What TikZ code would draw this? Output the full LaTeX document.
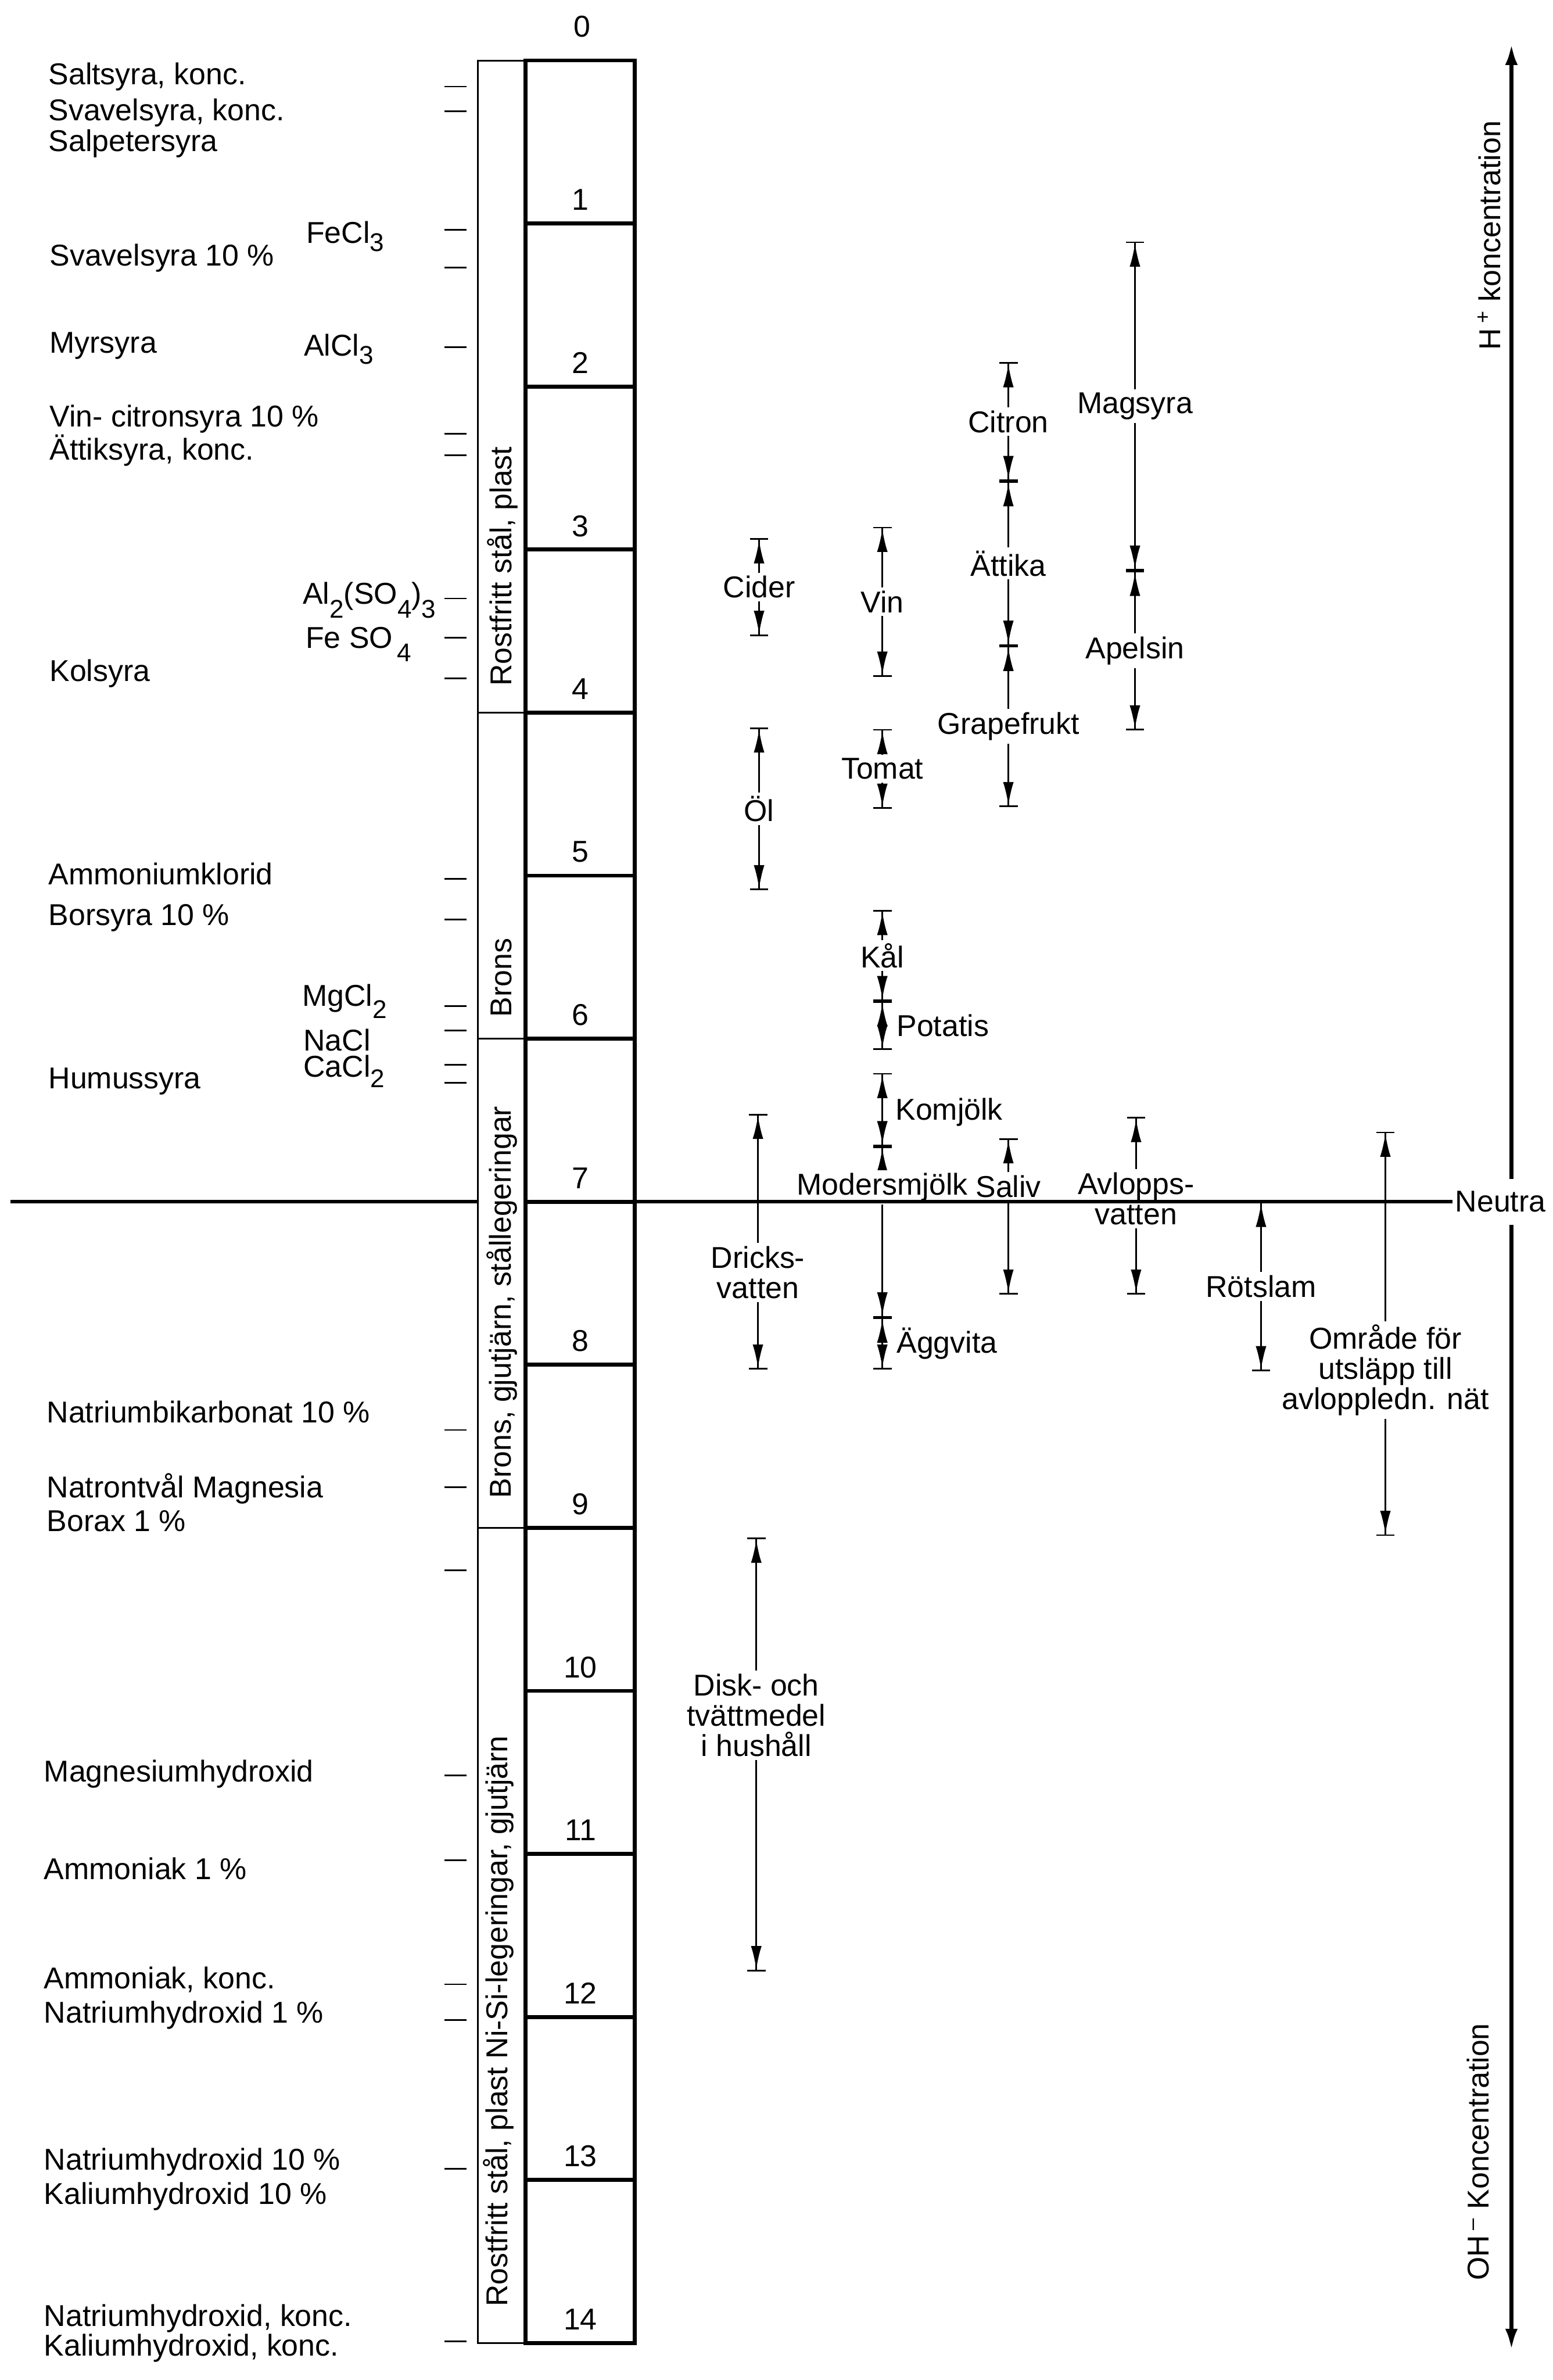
\documentclass[tikz,border=0pt]{standalone}
\usepackage{fontspec}
\setmainfont{Liberation Sans}
\usetikzlibrary{arrows.meta}
\newcommand{\subsc}[2][-0.3em]{\raisebox{#1}{\fontsize{13}{14}\selectfont #2}}

\begin{document}
\begin{tikzpicture}[x=1cm, y=-2.91cm,
    every node/.style={font=\fontsize{15.3}{15.4}\selectfont, inner sep=0.06cm},
    cell/.style={line width=2pt},
    matcol/.style={line width=0.85pt},
    pHtick/.style={line width=0.85pt},
    interval/.style={line width=0.85pt, {Bar[width=0.33cm]Latex[length=0.42cm,width=0.19cm]}-{Latex[length=0.42cm,width=0.19cm]Bar[width=0.33cm]}},
    lbl/.style={fill=white, align=center},
    chem/.style={anchor=west},
    mat/.style={rotate=90, anchor=base west}]
    \useasboundingbox (0,-0.371) rectangle (27.72,14.227);
    % pH-skalan
    \draw[matcol] (8.53,0) rectangle (9.38,14);
    \foreach \k in {4,6,9} \draw[matcol] (8.53,\k) -- (9.38,\k);
    \draw[cell] (9.38,0) rectangle (11.33,14);
    \foreach \k in {1,...,13} \draw[cell] (9.38,\k) -- (11.33,\k);
    \node (ph0) at (10.39,-0.21) {0};
    \foreach \k in {1,...,14} \node (ph\k) at (10.36,\k-0.145) {\k};
    % material
    \node[mat] (mat1) at (9.13,3.86) {Rostfritt stål, plast};
    \node[mat] (mat2) at (9.13,5.89) {Brons};
    \node[mat] (mat3) at (9.12,8.84) {Brons, gjutjärn, stållegeringar};
    \node[mat] (mat4) at (9.06,13.80) {Rostfritt stål, plast Ni-Si-legeringar, gjutjärn};
    % streck vid ämnena
    \foreach \p in {0.16,0.31,1.04,1.27,1.76,2.29,2.42,3.30,3.54,3.79,5.02,5.27,5.80,5.95,6.16,6.27,8.40,8.75,9.26,10.52,11.04,11.80,12.02,12.93,13.99}
        \draw[pHtick] (7.93,\p) -- (8.33,\p);
    % syror och baser
    \node[chem] (saltk) at (0.80,0.10) {Saltsyra, konc.};
    \node[chem] (svavk) at (0.80,0.32) {Svavelsyra, konc.};
    \node[chem] (salp) at (0.80,0.51) {Salpetersyra};
    \node[chem] (svav10) at (0.82,1.21) {Svavelsyra 10 \%};
    \node[chem] (myr) at (0.82,1.75) {Myrsyra};
    \node[chem] (vinc) at (0.82,2.20) {Vin- citronsyra 10 \%};
    \node[chem] (attk) at (0.82,2.39) {Ättiksyra, konc.};
    \node[chem] (kol) at (0.82,3.76) {Kolsyra};
    \node[chem] (ammkl) at (0.80,4.99) {Ammoniumklorid};
    \node[chem] (bor) at (0.80,5.26) {Borsyra 10 \%};
    \node[chem] (humus) at (0.80,6.26) {Humussyra};
    \node[chem] (nabik) at (0.77,8.29) {Natriumbikarbonat 10 \%};
    \node[chem] (natron) at (0.77,8.76) {Natrontvål Magnesia};
    \node[chem] (borax) at (0.77,8.96) {Borax 1 \%};
    \node[chem] (mgoh) at (0.72,10.51) {Magnesiumhydroxid};
    \node[chem] (amm1) at (0.72,11.09) {Ammoniak 1 \%};
    \node[chem] (ammk) at (0.72,11.77) {Ammoniak, konc.};
    \node[chem] (naoh1) at (0.72,11.99) {Natriumhydroxid 1 \%};
    \node[chem] (naoh10) at (0.72,12.89) {Natriumhydroxid 10 \%};
    \node[chem] (koh10) at (0.72,13.10) {Kaliumhydroxid 10 \%};
    \node[chem] (naohk) at (0.72,13.85) {Natriumhydroxid, konc.};
    \node[chem] (kohk) at (0.72,14.03) {Kaliumhydroxid, konc.};
    % salter
    \node[chem] (fecl) at (5.40,1.08) {FeCl\subsc[-0.27em]{3}};
    \node[chem] (alcl) at (5.36,1.77) {AlCl\subsc[-0.27em]{3}};
    \node[chem] (also) at (5.34,3.31) {Al\subsc[-0.45em]{2}(SO\subsc[-0.45em]{4})\subsc[-0.45em]{3}};
    \node[chem] (feso) at (5.39,3.58) {Fe SO\subsc[-0.45em]{\,4}};
    \node[chem] (mgcl) at (5.33,5.77) {MgCl\subsc[-0.4em]{2}};
    \node[chem] (nacl) at (5.35,6.01) {NaCl};
    \node[chem] (cacl) at (5.35,6.20) {CaCl\subsc[-0.36em]{2}};
    % livsmedel m.m.
    \draw[interval] (13.55,2.93) -- node[lbl] (cider) {Cider} (13.55,3.53);
    \draw[interval] (13.55,4.09) -- node[lbl] (ol) {Öl} (13.55,5.09);
    \draw[interval] (15.75,2.86) -- node[lbl] (vin) {Vin} (15.75,3.78);
    \draw[interval] (15.75,4.10) -- node[lbl] (tomat) {Tomat} (15.75,4.59);
    \draw[interval] (15.75,5.21) -- node[lbl] (kal) {Kål} (15.75,5.77);
    \draw[interval] (15.75,5.77) -- (15.75,6.07);
    \node[chem] (potatis) at (15.94,5.92) {Potatis};
    \draw[interval] (15.75,6.21) -- (15.75,6.66);
    \node[chem] (komjolk) at (15.92,6.45) {Komjölk};
    \draw[interval] (15.75,6.66) -- node[lbl, pos=0.24] (moders) {Modersmjölk} (15.75,7.71);
    \draw[interval] (15.75,7.71) -- (15.75,8.03);
    \node[chem] (aggvita) at (15.94,7.87) {Äggvita};
    \draw[interval] (18.00,1.85) -- node[lbl] (citron) {Citron} (18.00,2.58);
    \draw[interval] (18.00,2.58) -- node[lbl] (attika) {Ättika} (18.00,3.59);
    \draw[interval] (18.00,3.59) -- node[lbl] (grape) {Grapefrukt} (18.00,4.58);
    \draw[interval] (20.26,1.11) -- node[lbl] (magsyra) {Magsyra} (20.26,3.13);
    \draw[interval] (20.26,3.13) -- node[lbl] (apelsin) {Apelsin} (20.26,4.11);
    \draw[interval] (13.53,6.46) -- node[lbl, pos=0.62] (dricks) {Dricks-\\vatten} (13.53,8.03);
    \draw[interval] (18.00,6.61) -- node[lbl, pos=0.31] (saliv) {Saliv} (18.00,7.57);
    \draw[interval] (20.28,6.48) -- node[lbl, pos=0.46] (avlopp) {Avlopps-\\vatten} (20.28,7.57);
    \draw[interval] (22.51,7.00) -- node[lbl] (rotslam) {Rötslam} (22.51,8.04);
    \draw[interval] (24.73,6.57) -- node[lbl, pos=0.59] (omrade) {Område för\\utsläpp till\\avloppledn. nät} (24.73,9.05);
    \draw[interval] (13.50,9.06) -- node[lbl, pos=0.41] (disk) {Disk- och\\tvättmedel\\i hushåll} (13.50,11.72);
    % koncentrationsaxeln och neutrallinjen
    \draw[line width=2.3pt, {Latex[length=0.4cm,width=0.22cm]}-{Latex[length=0.4cm,width=0.22cm]}] (26.98,14.05) -- (26.98,-0.11);
    \node[mat] (hkonc) at (26.78,1.80) {H\,\textsuperscript{+}\ koncentration};
    \node[mat] (ohkonc) at (26.58,13.64) {OH\,\textsuperscript{--}\ Koncentration};
    \node[fill=white, anchor=west, inner xsep=0.04cm, inner ysep=0.22cm] (neutral) at (25.93,7) {Neutra};
    \draw[line width=1.7pt] (0.19,7) -- (8.53,7);
    \draw[line width=1.7pt] (11.33,7) -- (neutral.west);
\end{tikzpicture}
\end{document}
